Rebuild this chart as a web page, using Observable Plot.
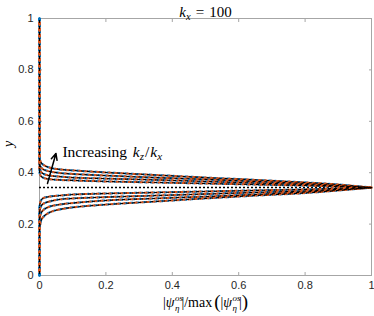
<!DOCTYPE html>
<html><head><meta charset="utf-8">
<script src="https://cdn.jsdelivr.net/npm/d3@7"></script>
<script src="https://cdn.jsdelivr.net/npm/@observablehq/plot@0.6"></script>
<style>body{margin:0;background:#fff} svg{display:block}</style>
</head><body><div id="chart"></div>
<script>
// sample positions along |psi|/max(|psi|)
const xGrid = [0, 0.003, 0.01, 0.03, 0.06, 0.1, 0.2, 0.35, 0.5, 0.65, 0.8, 0.9, 1];
// curves, inner (small kz/kx) to outer (large kz/kx)
const curveIds = ["c1", "c2", "c3", "c4"];
const upper1 = [0.401, 0.389, 0.381, 0.375, 0.372, 0.370, 0.366, 0.362, 0.358, 0.354, 0.350, 0.346, 0.342];
const upper2 = [0.416, 0.407, 0.397, 0.389, 0.385, 0.381, 0.377, 0.372, 0.366, 0.360, 0.354, 0.348, 0.342];
const upper3 = [0.436, 0.424, 0.414, 0.405, 0.399, 0.395, 0.389, 0.381, 0.374, 0.366, 0.358, 0.350, 0.342];
const upper4 = [0.455, 0.444, 0.432, 0.420, 0.413, 0.409, 0.401, 0.391, 0.381, 0.372, 0.362, 0.354, 0.342];
const lower1 = [0.265, 0.288, 0.300, 0.307, 0.311, 0.315, 0.319, 0.323, 0.327, 0.331, 0.335, 0.339, 0.342];
const lower2 = [0.241, 0.265, 0.278, 0.288, 0.296, 0.300, 0.305, 0.311, 0.317, 0.323, 0.329, 0.335, 0.342];
const lower3 = [0.214, 0.237, 0.253, 0.268, 0.276, 0.282, 0.292, 0.300, 0.307, 0.315, 0.325, 0.333, 0.342];
const lower4 = [0.183, 0.206, 0.226, 0.245, 0.257, 0.265, 0.276, 0.288, 0.300, 0.311, 0.321, 0.331, 0.342];
const yCritical = 0.342;
const xTicks = [0, 0.2, 0.4, 0.6, 0.8, 1];
const yTicks = [0, 0.2, 0.4, 0.6, 0.8, 1];
const xTickLabels = ["0", "0.2", "0.4", "0.6", "0.8", "1"];
const yTickLabels = ["0", "0.2", "0.4", "0.6", "0.8", "1"];
const arrowStart = [0.024, 0.358];
const arrowEnd = [0.0495, 0.475];
const annotationPos = [0.069, 0.479];
const titleText = "k_x = 100";
const annotationText = "Increasing k_z/k_x";
const xLabelText = "|ψ_η^os|/max(|ψ_η^os|)";
const yLabelText = "y";

const uppers = [upper1, upper2, upper3, upper4];
const lowers = [lower1, lower2, lower3, lower4];
const rows = [];
curveIds.forEach((id, i) => {
  // bottom wall segment along x = 0 (starts at y = 0)
  rows.push({curve: id + "b", x: 0, y: 0}, {curve: id + "b", x: 0, y: lowers[i][0]});
  // main loop around the critical layer
  xGrid.forEach((x, j) => rows.push({curve: id, x, y: lowers[i][j]}));
  for (let j = xGrid.length - 1; j >= 0; j--) rows.push({curve: id, x: xGrid[j], y: uppers[i][j]});
  // top segment along x = 0 (starts at y = 1)
  rows.push({curve: id + "t", x: 0, y: 1}, {curve: id + "t", x: 0, y: uppers[i][0]});
});

const styles = [
  {stroke: "#0072BD", strokeWidth: 2.2, strokeDasharray: "2 4", strokeDashoffset: 0},
  {stroke: "#D95319", strokeWidth: 2, strokeDasharray: "2 4", strokeDashoffset: 2},
  {stroke: "#000000", strokeWidth: 1.1, strokeDasharray: "2 4", strokeDashoffset: 4}
];

const frameColor = "#a6a6a6";
const font = "'Liberation Sans', Arial, sans-serif";
const serif = "'Liberation Serif', 'Times New Roman', serif";

const plot = Plot.plot({
  width: 374, height: 316,
  marginTop: 18, marginBottom: 41, marginLeft: 39, marginRight: 3,
  style: {fontFamily: font, fontSize: "11px", color: "#262626", background: "#fff"},
  x: {domain: [0, 1]},
  y: {domain: [0, 1]},
  marks: [
    Plot.frame({stroke: frameColor}),
    Plot.axisX({anchor: "bottom", ticks: xTicks, tickFormat: (d, i) => xTickLabels[i], tickSize: -3, tickPadding: 9, stroke: frameColor, fill: "#262626", label: null}),
    Plot.axisX({anchor: "top", ticks: xTicks, tickFormat: () => "", tickSize: -3, stroke: frameColor, label: null}),
    Plot.axisY({anchor: "left", ticks: yTicks, tickFormat: (d, i) => yTickLabels[i], tickSize: -3, tickPadding: 9, stroke: frameColor, fill: "#262626", label: null}),
    Plot.axisY({anchor: "right", ticks: yTicks, tickFormat: () => "", tickSize: -3, stroke: frameColor, label: null}),
    Plot.ruleY([yCritical], {x1: 0, x2: 1, stroke: "#000", strokeWidth: 1.5, strokeDasharray: "2 2"}),
    ...styles.map(s => Plot.line(rows, {x: "x", y: "y", z: "curve", curve: "catmull-rom", fill: "none", ...s})),
    Plot.arrow([{x1: arrowStart[0], y1: arrowStart[1], x2: arrowEnd[0], y2: arrowEnd[1]}], {x1: "x1", y1: "y1", x2: "x2", y2: "y2", stroke: "#000", strokeWidth: 1.5, headLength: 7, headAngle: 50}),
    Plot.text([annotationPos], {x: d => d[0], y: d => d[1], text: () => annotationText, textAnchor: "start", fontFamily: serif, fontSize: 15.5, fill: "#000"}),
    Plot.text([titleText], {frameAnchor: "top", dy: -12, fontFamily: serif, fontSize: 15, fill: "#000"}),
    Plot.text([yLabelText], {frameAnchor: "left", dx: -31, rotate: -90, fontFamily: serif, fontStyle: "italic", fontSize: 14, fill: "#000"}),
    Plot.text([xLabelText], {frameAnchor: "bottom", dy: 31, fontFamily: serif, fontSize: 14, fill: "#000"})
  ]
});
document.getElementById("chart").appendChild(plot);

const svg = d3.select(plot);
function rich(content, parts) {
  svg.selectAll("text").filter(function () { return this.textContent === content; }).each(function () {
    const t = d3.select(this);
    t.text(null);
    let lastW = 0;
    for (const p of parts) {
      const s = t.append("tspan").text(p.t);
      if (p.it) s.attr("font-style", "italic");
      if (p.fs) s.attr("font-size", p.fs);
      let dx = p.dx || 0;
      if (p.under) dx -= lastW;
      if (dx) s.attr("dx", dx);
      if (p.dy) s.attr("dy", p.dy);
      lastW = s.node().getComputedTextLength();
    }
  });
}
rich(titleText, [{t: "k", it: true}, {t: "x", it: true, fs: 10.5, dy: 3}, {t: "=", dy: -3, dx: 5}, {t: "100", dx: 5}]);
rich(annotationText, [{t: "Increasing "}, {t: "k", it: true, dx: 2}, {t: "z", it: true, fs: 11, dy: 3}, {t: "/", dy: -3, dx: 1}, {t: "k", it: true, dx: 1}, {t: "x", it: true, fs: 11, dy: 3}]);
rich(xLabelText, [
  {t: "|"}, {t: "ψ", it: true}, {t: "os", it: true, fs: 9, dy: -6, dx: 0.5}, {t: "η", it: true, fs: 9, dy: 10, under: true}, {t: "|/max", dy: -4, dx: 2},
  {t: "(", fs: 19, dy: 1, dx: 2}, {t: "|", fs: 14, dy: -1}, {t: "ψ", it: true}, {t: "os", it: true, fs: 9, dy: -6, dx: 0.5}, {t: "η", it: true, fs: 9, dy: 10, under: true}, {t: "|", fs: 14, dy: -4, dx: 2}, {t: ")", fs: 19, dy: 1}
]);
</script>
</body></html>
